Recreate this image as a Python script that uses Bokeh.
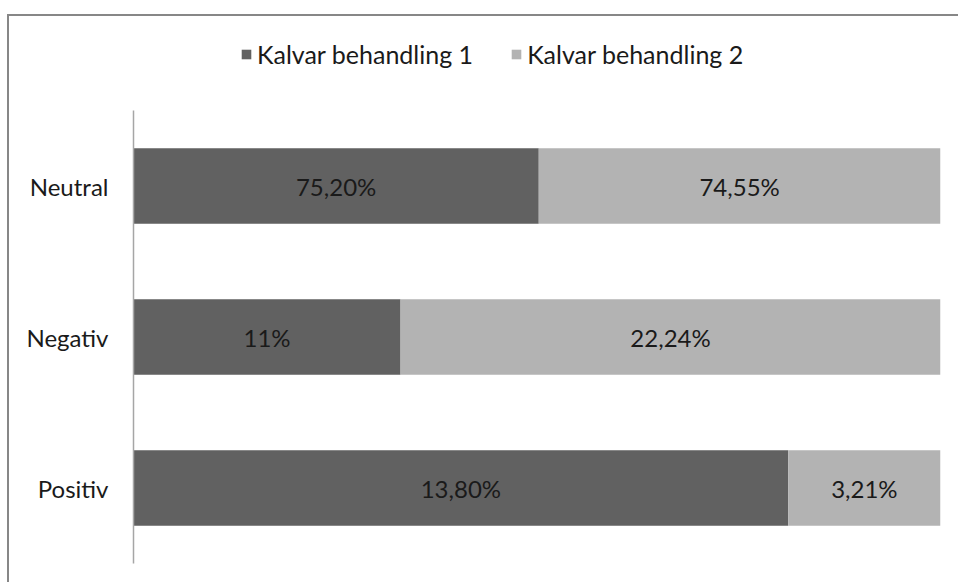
from bokeh.plotting import figure
from bokeh.layouts import column
from bokeh.models import ColumnDataSource, Legend, LegendItem, FactorRange, Range1d
from bokeh.core.properties import value
from bokeh.embed import file_html
from bokeh.resources import INLINE

categories = ["Positiv", "Negativ", "Neutral"]
series_names = ["Kalvar behandling 1", "Kalvar behandling 2"]
s1 = [13.80, 11.00, 75.20]
s2 = [3.21, 22.24, 74.55]
lab1 = ["13,80%", "11%", "75,20%"]
lab2 = ["3,21%", "22,24%", "74,55%"]

FONT = "Lato"
DARK = "#616161"
LIGHT = "#b3b3b3"
FS = "24px"
W = 949

tot = [a + b for a, b in zip(s1, s2)]
p1 = [100 * a / t for a, t in zip(s1, tot)]
p2 = [100 * b / t for b, t in zip(s2, tot)]

src = ColumnDataSource(dict(
    cat=categories, p1=p1, p2=p2,
    x1=[v / 2 for v in p1],
    x2=[a + b / 2 for a, b in zip(p1, p2)],
    lab1=lab1, lab2=lab2,
))
colors = [DARK, LIGHT]

# ---- legend strip (top) ----
leg = figure(width=W, height=94, x_range=Range1d(0, 100), y_range=FactorRange(*categories),
             output_backend="svg", toolbar_location=None,
             x_axis_location=None, y_axis_location=None,
             min_border_left=0, min_border_right=0, min_border_top=0, min_border_bottom=0)
leg.outline_line_color = None
leg.grid.visible = False
lr = leg.hbar_stack(["p1", "p2"], y="cat", height=0.5, source=src, color=colors, line_color=None)
for rr in lr:
    rr.visible = False
legend = Legend(items=[LegendItem(label=n, renderers=[rr]) for n, rr in zip(series_names, lr)],
                orientation="horizontal", location=(107, 41),
                glyph_width=12, glyph_height=12, label_text_font=FONT,
                label_text_font_size="25px", label_text_color="#1a1a1a",
                label_standoff=5, spacing=37, padding=0, margin=0,
                inactive_fill_alpha=0,
                border_line_color=None, background_fill_alpha=0)
leg.add_layout(legend, "center")

# ---- main chart ----
p = figure(width=W, height=472, y_range=FactorRange(*categories), x_range=Range1d(0, 100),
           output_backend="svg", toolbar_location=None,
           min_border_left=124, min_border_right=18, min_border_top=0, min_border_bottom=19)
p.outline_line_color = None
p.grid.visible = False
p.xaxis.visible = False

r = p.hbar_stack(["p1", "p2"], y="cat", height=0.5, source=src,
                 color=colors, line_color=None)

p.text(x="x1", y="cat", text="lab1", source=src, text_align="center", text_baseline="middle",
       text_font=value(FONT), text_font_size=FS, text_color="#1a1a1a")
p.text(x="x2", y="cat", text="lab2", source=src, text_align="center", text_baseline="middle",
       text_font=value(FONT), text_font_size=FS, text_color="#1a1a1a")

ax = p.yaxis[0]
ax.axis_line_color = "#a6a6a6"
ax.axis_line_width = 1.5
ax.major_tick_line_color = None
ax.minor_tick_line_color = None
ax.major_label_text_font = FONT
ax.major_label_text_font_size = FS
ax.major_label_text_color = "#1a1a1a"
ax.major_label_standoff = 19

layout = column(leg, p, spacing=0)
layout.styles = {"border-top": "2px solid #878787", "border-left": "2px solid #878787",
                 "margin-top": "14px", "margin-left": "7px"}

open("out.html", "w").write(file_html(layout, INLINE))
